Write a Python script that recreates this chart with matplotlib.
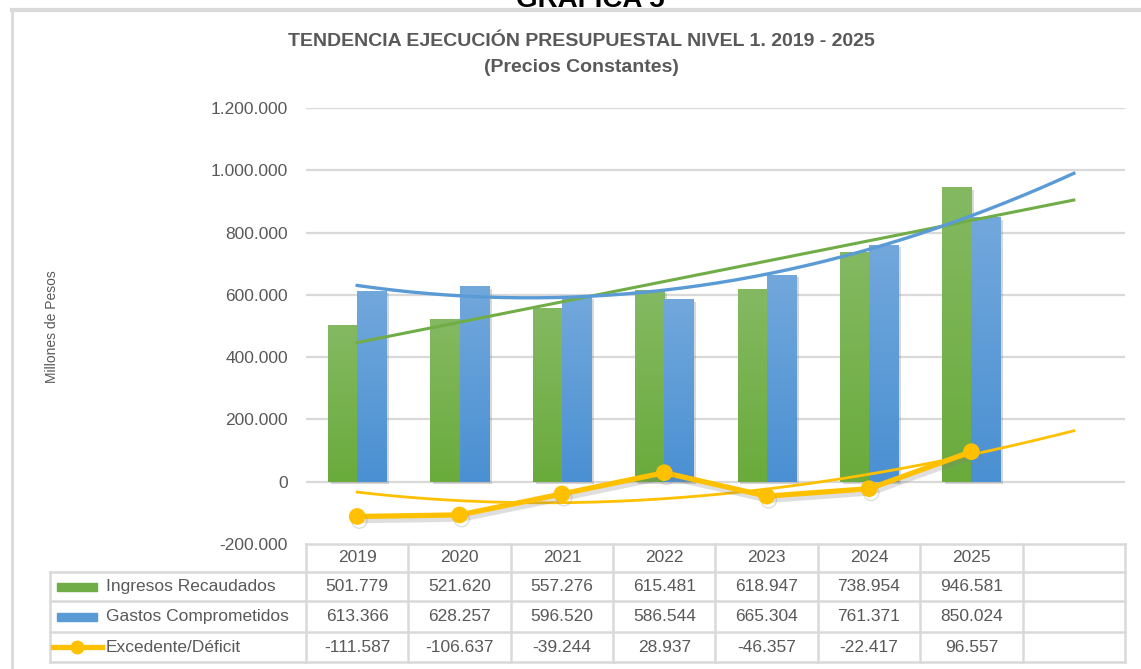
import numpy as np
import matplotlib
matplotlib.use("Agg")
import matplotlib.pyplot as plt
from matplotlib.lines import Line2D
from matplotlib.patches import Rectangle
from matplotlib.colors import LinearSegmentedColormap
import matplotlib.patheffects as pe

years = ["2019", "2020", "2021", "2022", "2023", "2024", "2025"]
ingresos = [501779, 521620, 557276, 615481, 618947, 738954, 946581]
gastos = [613366, 628257, 596520, 586544, 665304, 761371, 850024]
excedente = [-111587, -106637, -39244, 28937, -46357, -22417, 96557]
# Excel trendline of Excedente/Déficit (8 periods incl. forecast)
excedente_trend_read = [-35000, -58000, -67000, -55000, -26000, 22000, 93000, 161000]
ingresos_lbl = ["501.779", "521.620", "557.276", "615.481", "618.947", "738.954", "946.581"]
gastos_lbl = ["613.366", "628.257", "596.520", "586.544", "665.304", "761.371", "850.024"]
exced_lbl = ["-111.587", "-106.637", "-39.244", "28.937", "-46.357", "-22.417", "96.557"]
series_names = ["Ingresos Recaudados", "Gastos Comprometidos", "Excedente/Déficit"]
yticks = [-200000, 0, 200000, 400000, 600000, 800000, 1000000, 1200000]
ytick_lbl = ["-200.000", "0", "200.000", "400.000", "600.000", "800.000", "1.000.000", "1.200.000"]

GREEN = "#70AD47"
BLUE = "#5B9BD5"
YELLOW = "#FFC000"
TXT = "#595959"
GRID = "#D9D9D9"
FONT = ["Liberation Sans", "DejaVu Sans"]
NARROW = ["Liberation Sans Narrow", "Liberation Sans", "DejaVu Sans"]

W, H = 1141, 669
fig = plt.figure(figsize=(W / 100, H / 100), dpi=100)

def fx(x):
    return x / W

def fy(y):
    return 1 - y / H

# plot area
L, R, T, B = 306, 1125, 108, 544
ax = fig.add_axes([fx(L), fy(B), fx(R) - fx(L), fy(T) - fy(B)])
ncat = 8
ax.set_xlim(-0.5, ncat - 0.5)
ax.set_ylim(-200000, 1200000)
for s in ax.spines.values():
    s.set_visible(False)
ax.set_xticks([])
ax.set_yticks(yticks)
ax.set_yticklabels(ytick_lbl, fontsize=12.5, color=TXT, family=FONT)
ax.tick_params(axis="y", length=0, pad=13)
for yv in yticks[1:]:
    ax.axhline(yv, color=GRID, lw=1.6, zorder=0)

x = np.arange(len(years))
bw = 0.285
shadow = [pe.SimplePatchShadow(offset=(2, -2), shadow_rgbFace="#7f7f7f", alpha=0.3), pe.Normal()]
b1 = ax.bar(x - bw / 2, ingresos, bw, color=GREEN, zorder=2)
b2 = ax.bar(x + bw / 2, gastos, bw, color=BLUE, zorder=2)
for b in list(b1) + list(b2):
    b.set_path_effects(shadow)

# subtle vertical gradient on bars
cm_g = LinearSegmentedColormap.from_list("g", ["#6AAB3C", "#84B962"])
cm_b = LinearSegmentedColormap.from_list("b", ["#4A90D2", "#72A8DC"])
grad = np.linspace(0, 1, 256).reshape(-1, 1)
for bars, cm in ((b1, cm_g), (b2, cm_b)):
    for b in bars:
        x0, y0 = b.get_x(), b.get_y()
        w, h = b.get_width(), b.get_height()
        im = ax.imshow(grad, cmap=cm, aspect="auto", origin="lower",
                       extent=[x0, x0 + w, y0, y0 + h], zorder=2.5)
        im.set_clip_path(b)
ax.set_xlim(-0.5, ncat - 0.5)
ax.set_ylim(-200000, 1200000)

# trendlines (forecast one period forward)
xt = np.linspace(0, ncat - 1, 200)
g_fit = np.polyval(np.polyfit(x, ingresos, 1), xt)
b_fit = np.polyval(np.polyfit(x, gastos, 2), xt)
e_fit = np.polyval(np.polyfit(np.arange(ncat), excedente_trend_read, 3), xt)
ax.plot(xt, g_fit, color=GREEN, lw=2.2, zorder=4)
ax.plot(xt, b_fit, color=BLUE, lw=2.4, zorder=4)
ax.plot(xt, e_fit, color=YELLOW, lw=2.0, zorder=4)

ln, = ax.plot(x, excedente, color=YELLOW, lw=3.8, marker="o", ms=11, zorder=5,
              solid_capstyle="round")
ln.set_path_effects([pe.SimpleLineShadow(offset=(1.5, -3), shadow_color="#7f7f7f", alpha=0.25),
                     pe.Normal()])

# y axis label
fig.text(fx(52), fy(327), "Millones de Pesos", rotation=90, ha="center", va="center",
         fontsize=10, color=TXT, family=FONT)

# titles
fig.text(fx(581), fy(42), "TENDENCIA EJECUCIÓN PRESUPUESTAL NIVEL 1. 2019 - 2025",
         ha="center", va="center", fontsize=14, fontweight="bold", color=TXT, family=NARROW)
fig.text(fx(581), fy(68), "(Precios Constantes)", ha="center", va="center",
         fontsize=14, fontweight="bold", color=TXT, family=NARROW)
fig.text(fx(590), fy(7), "GRÁFICA 5", ha="center", va="baseline", fontsize=20,
         fontweight="bold", color="black", family=FONT)

# chart border
fig.add_artist(Line2D([fx(12), 1], [fy(10), fy(10)], color=GRID, lw=3, transform=fig.transFigure))
fig.add_artist(Line2D([fx(12), fx(12)], [fy(10), 0], color=GRID, lw=2, transform=fig.transFigure))

# data table
cw = (R - L) / ncat
colx = [L + i * cw for i in range(ncat + 1)]
rows_y = [544, 572, 601, 632, 662]
TL = 50

def hline(x0, x1, y):
    fig.add_artist(Line2D([fx(x0), fx(x1)], [fy(y), fy(y)], color=GRID, lw=1.8,
                          transform=fig.transFigure))

def vline(xv, y0, y1):
    fig.add_artist(Line2D([fx(xv), fx(xv)], [fy(y0), fy(y1)], color=GRID, lw=1.8,
                          transform=fig.transFigure))

hline(L, R, rows_y[0])
for yv in rows_y[1:]:
    hline(TL, R, yv)
vline(TL, rows_y[1], rows_y[4])
for xv in colx:
    vline(xv, rows_y[0], rows_y[4])

row_data = [ingresos_lbl, gastos_lbl, exced_lbl]
for i, yr in enumerate(years):
    cx = (colx[i] + colx[i + 1]) / 2
    fig.text(fx(cx), fy((rows_y[0] + rows_y[1]) / 2), yr, ha="center", va="center",
             fontsize=12.5, color=TXT, family=FONT)
    for r in range(3):
        fig.text(fx(cx), fy((rows_y[r + 1] + rows_y[r + 2]) / 2), row_data[r][i],
                 ha="center", va="center", fontsize=12.5, color=TXT, family=FONT)

for r, name in enumerate(series_names):
    cy = (rows_y[r + 1] + rows_y[r + 2]) / 2
    fig.text(fx(106), fy(cy), name, ha="left", va="center", fontsize=12.5,
             color=TXT, family=FONT)

fig.add_artist(Rectangle((fx(57), fy(591)), fx(40), fy(583) - fy(591), color=GREEN,
                         transform=fig.transFigure))
fig.add_artist(Rectangle((fx(57), fy(621)), fx(40), fy(613) - fy(621), color=BLUE,
                         transform=fig.transFigure))
fig.add_artist(Line2D([fx(53), fx(102)], [fy(647), fy(647)], color=YELLOW, lw=3.8,
                      transform=fig.transFigure))
fig.add_artist(Line2D([fx(77)], [fy(647)], color=YELLOW, marker="o", ms=9,
                      transform=fig.transFigure))

fig.savefig("out.png", dpi=100)
